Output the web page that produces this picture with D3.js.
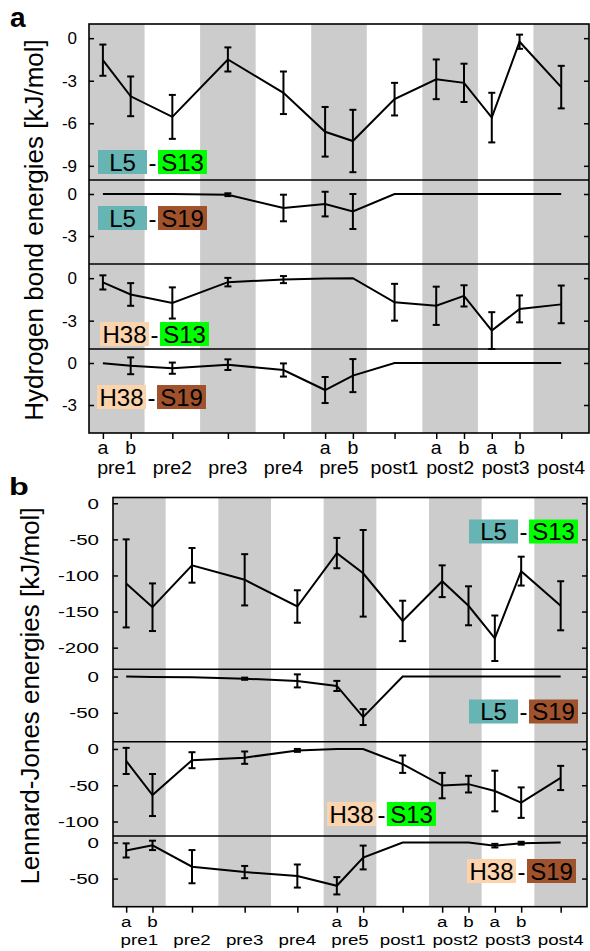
<!DOCTYPE html>
<html lang="en">
<head>
<meta charset="utf-8">
<title>Hydrogen bond and Lennard-Jones energies</title>
<script src="https://cdn.jsdelivr.net/npm/d3@7"></script>
<style>
    body { margin: 0; background: #fff; }
    svg text { font-family: Arial, "Liberation Sans", sans-serif; fill: #000; }
    .tick line { stroke: #000; stroke-width: 1.5; }
</style>
</head>
<body>
<svg id="fig" width="590" height="951"></svg>
<script>
//_____________________________DATA_____________________________
var groups  = ["pre1","pre2","pre3","pre4","pre5","post1","post2","post3","post4"];
var ptGroup = ["pre1","pre1","pre2","pre3","pre4","pre5","pre5","post1","post2","post2","post3","post3","post4"];
var ptSub   = ["a","b","","","","a","b","","a","b","a","b",""];

var pairs = [["L5","S13"],["L5","S19"],["H38","S13"],["H38","S19"]];
var residueColor = {L5: "#67b4b4", H38: "#fbd3ac", S13: "#00ff00", S19: "#a0522d"};

var hbTicks = [[0,-3,-6,-9],[0,-3],[0,-3],[0,-3]];
var ljTicks = [[0,-50,-100,-150,-200],[0,-50],[0,-50,-100],[0,-50]];

// hydrogen bond energies, kJ/mol (mean, error)
var hbL5S13     = [-1.55,-4.1,-5.55,-1.5,-3.85,-6.6,-7.25,-4.3,-2.9,-3.15,-5.6,-0.25,-3.45];
var hbL5S13Err  = [1.1,1.4,1.55,0.85,1.5,1.75,2.2,1.15,1.4,1.35,1.75,0.5,1.5];
var hbL5S19     = [0,0,0,-0.05,-1.0,-0.72,-1.25,0,0,0,0,0,0];
var hbL5S19Err  = [0,0,0,0.1,0.95,0.88,1.25,0,0,0,0,0,0];
var hbH38S13    = [-0.3,-1.15,-1.75,-0.28,-0.1,-0.03,0,-1.7,-1.95,-1.25,-3.7,-2.17,-1.85];
var hbH38S13Err = [0.5,0.8,1.1,0.3,0.25,0,0,1.3,1.35,0.75,1.3,0.95,1.33];
var hbH38S19    = [-0.02,-0.2,-0.37,-0.12,-0.5,-1.93,-0.9,0,0,0,0,0,0];
var hbH38S19Err = [0,0.6,0.4,0.38,0.47,0.93,1.18,0,0,0,0,0,0];

// Lennard-Jones energies, kJ/mol (mean, error)
var ljL5S13     = [-111,-144,-86,-106,-143,-69,-97,-163,-108,-142,-187,-94,-142];
var ljL5S13Err  = [61,33,24,35.5,22.5,21,60,28,22,27,31.5,20,34];
var ljL5S19     = [0,-0.5,-1,-3,-6,-13,-56,0,0,0,0,0,0];
var ljL5S19Err  = [0,0,0,1.5,9,7,11,0,0,0,0,0,0];
var ljH38S13    = [-16.5,-63.5,-15.5,-12,-2,0,0,-21,-50.5,-48.5,-58,-74,-40];
var ljH38S13Err = [18,29,11,8.5,2,0,0,12,17.5,11.5,28,21,16.7];
var ljH38S19    = [-11,-4,-33.5,-41,-46.5,-60,-20.8,0,0,0,-4.4,-1,0];
var ljH38S19Err = [9.8,6.5,23,8.5,16,12,16.5,0,0,0,2.5,2,0];

//_____________________________LAYOUT_____________________________
var panels = [
    {letter: "a", letterPos: [10, 27], letterSize: 28, letterSx: 1,
     title: "Hydrogen bond energies [kJ/mol]", titlePos: [43.3, 230],
     left: 89, right: 589, bounds: [24, 180, 264, 349, 433],
     domains: [[-10,1],[-5,1],[-5,1],[-5,1]], ticks: hbTicks,
     means: [hbL5S13, hbL5S19, hbH38S13, hbH38S19],
     errs: [hbL5S13Err, hbL5S19Err, hbH38S13Err, hbH38S19Err],
     labelPos: [[98,150],[98,206],[100,322],[97,385]],
     tickFont: 17, tickSx: 1, tickPad: 12,
     subY: 454, grpY: 474, xFont: 17.5, xSx: 1.12},
    {letter: "b", letterPos: [9, 495], letterSize: 24, letterSx: 1.35,
     title: "Lennard-Jones energies [kJ/mol]", titlePos: [38.5, 696],
     left: 113, right: 587, bounds: [497.5, 669.3, 741.7, 836, 906.7],
     domains: [[-230,8],[-90,10],[-120,10],[-89,9]], ticks: ljTicks,
     means: [ljL5S13, ljL5S19, ljH38S13, ljH38S19],
     errs: [ljL5S13Err, ljL5S19Err, ljH38S13Err, ljH38S19Err],
     labelPos: [[469,519.5],[469,699.5],[327,802],[467,859]],
     tickFont: 15, tickSx: 1.37, tickPad: 14,
     subY: 927, grpY: 945, xFont: 15, xSx: 1.25}
];

var svg = d3.select("#fig");

panels.forEach(drawPanel);

//____________________________FUNCTIONS____________________________
function drawPanel(p) {
    var g = svg.append("g");
    var top = p.bounds[0], bottom = p.bounds[p.bounds.length - 1];

    var xBand = d3.scaleBand().domain(groups).range([p.left, p.right]);
    var bw = xBand.bandwidth();
    var xPos = ptGroup.map(function (grp, i) {
        var c = xBand(grp) + bw / 2;
        if (ptSub[i] === "a") return c - bw / 4;
        if (ptSub[i] === "b") return c + bw / 4;
        return c;
    });
    var keys = ptGroup.map(function (grp, i) { return grp + ptSub[i]; });
    var xOrd = d3.scaleOrdinal().domain(keys).range(xPos);

    // alternating grey bands
    g.selectAll("rect.band")
        .data(groups.filter(function (d, i) { return i % 2 === 0; }))
        .enter().append("rect")
        .attr("class", "band")
        .attr("x", function (d) { return xBand(d); })
        .attr("y", top)
        .attr("width", bw)
        .attr("height", bottom - top)
        .attr("fill", "#cccccc");

    // sub panels
    for (var k = 0; k < 4; k++) {
        var y = d3.scaleLinear().domain(p.domains[k]).range([p.bounds[k + 1], p.bounds[k]]);
        var m = p.means[k], e = p.errs[k];

        var line = d3.line()
            .x(function (d, i) { return xPos[i]; })
            .y(function (d) { return y(d); });
        g.append("path")
            .datum(m)
            .attr("d", line)
            .attr("fill", "none")
            .attr("stroke", "#000")
            .attr("stroke-width", 2);

        var bars = g.append("g").selectAll("g")
            .data(m.map(function (v, i) { return {x: xPos[i], v: v, e: e[i]}; })
                   .filter(function (d) { return d.e > 0; }))
            .enter().append("g")
            .attr("stroke", "#000")
            .attr("stroke-width", 2);
        bars.append("line")
            .attr("x1", function (d) { return d.x; }).attr("x2", function (d) { return d.x; })
            .attr("y1", function (d) { return y(d.v + d.e); })
            .attr("y2", function (d) { return y(d.v - d.e); });
        [1, -1].forEach(function (s) {
            bars.append("line")
                .attr("x1", function (d) { return d.x - 3.5; })
                .attr("x2", function (d) { return d.x + 3.5; })
                .attr("y1", function (d) { return y(d.v + s * d.e); })
                .attr("y2", function (d) { return y(d.v + s * d.e); });
        });

        // y axes: labels left, inward ticks both sides
        var la = g.append("g")
            .attr("transform", "translate(" + p.left + ",0)")
            .call(d3.axisLeft(y).tickValues(p.ticks[k]).tickSize(-5)
                .tickPadding(p.tickPad).tickFormat(function (d) { return String(d); }));
        la.select(".domain").remove();
        la.selectAll("text")
            .attr("font-size", p.tickFont)
            .attr("x", -p.tickPad / p.tickSx)
            .attr("transform", "scale(" + p.tickSx + ",1)");
        var ra = g.append("g")
            .attr("transform", "translate(" + p.right + ",0)")
            .call(d3.axisRight(y).tickValues(p.ticks[k]).tickSize(-5).tickFormat(""));
        ra.select(".domain").remove();

        drawLabel(g, pairs[k], p.labelPos[k]);
    }

    // dividers and frame
    g.selectAll("line.div")
        .data(p.bounds.slice(1, -1))
        .enter().append("line")
        .attr("x1", p.left).attr("x2", p.right)
        .attr("y1", function (d) { return d; }).attr("y2", function (d) { return d; })
        .attr("stroke", "#000").attr("stroke-width", 1.5);
    g.append("rect")
        .attr("x", p.left).attr("y", top)
        .attr("width", p.right - p.left).attr("height", bottom - top)
        .attr("fill", "none").attr("stroke", "#000").attr("stroke-width", 1.6);

    // x axis
    var xa = g.append("g")
        .attr("transform", "translate(0," + bottom + ")")
        .call(d3.axisBottom(xOrd).tickSize(6).tickFormat(""));
    xa.select(".domain").remove();

    g.selectAll("text.sub")
        .data(keys.filter(function (d, i) { return ptSub[i] !== ""; }))
        .enter().append("text")
        .attr("transform", function (d) {
            return "translate(" + xOrd(d) + "," + p.subY + ") scale(" + p.xSx + ",1)";
        })
        .attr("text-anchor", "middle")
        .attr("font-size", p.xFont)
        .text(function (d) { return d.slice(-1); });
    g.selectAll("text.grp")
        .data(groups)
        .enter().append("text")
        .attr("transform", function (d) {
            return "translate(" + (xBand(d) + bw / 2) + "," + p.grpY + ") scale(" + p.xSx + ",1)";
        })
        .attr("text-anchor", "middle")
        .attr("font-size", p.xFont)
        .text(function (d) { return d; });

    // axis title and panel letter
    g.append("text")
        .attr("transform", "translate(" + p.titlePos[0] + "," + p.titlePos[1] + ") rotate(-90)")
        .attr("text-anchor", "middle")
        .attr("font-size", 26)
        .text(p.title);
    g.append("text")
        .attr("transform", "translate(" + p.letterPos[0] + "," + p.letterPos[1] + ") scale(" + p.letterSx + ",1)")
        .attr("font-size", p.letterSize)
        .attr("font-weight", "bold")
        .text(p.letter);
}

function drawLabel(g, pair, pos) {
    var lg = g.append("g").attr("transform", "translate(" + pos[0] + "," + pos[1] + ")");
    [0, 60].forEach(function (dx, i) {
        lg.append("rect")
            .attr("x", dx).attr("y", 0)
            .attr("width", 49).attr("height", 24)
            .attr("fill", residueColor[pair[i]]);
        lg.append("text")
            .attr("x", dx + 24.5).attr("y", 20.6)
            .attr("text-anchor", "middle")
            .attr("font-size", 24)
            .text(pair[i]);
    });
    lg.append("text")
        .attr("x", 54.5).attr("y", 20.6)
        .attr("text-anchor", "middle")
        .attr("font-size", 24)
        .text("-");
}
</script>
</body>
</html>
